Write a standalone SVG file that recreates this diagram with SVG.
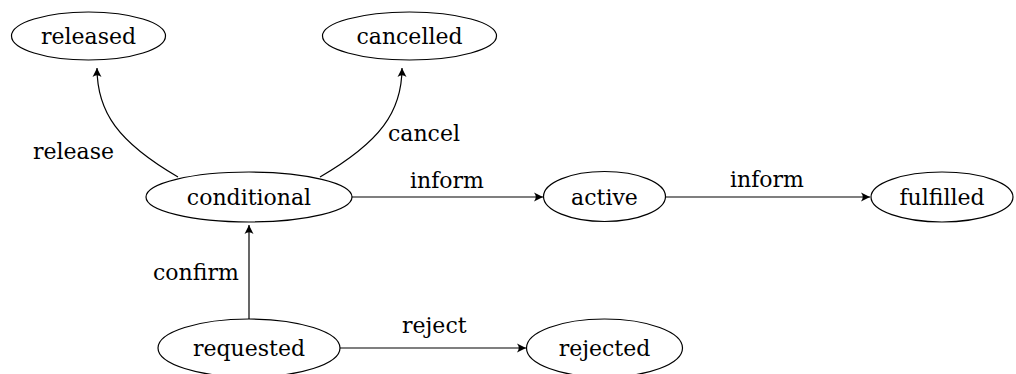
<svg xmlns="http://www.w3.org/2000/svg" width="1016" height="374" viewBox="0 0 1016 374" font-family="'DejaVu Serif', 'Liberation Serif', serif">
<style>
.n{fill:#fff;stroke:#000;stroke-width:1.2}
text{font-family:'DejaVu Serif','Liberation Serif',serif;font-size:22px;fill:#000}
.c text{text-anchor:middle}
.e{fill:none;stroke:#000;stroke-width:1.2}
</style>
<defs>
<marker id="a" markerUnits="userSpaceOnUse" markerWidth="12" markerHeight="12" viewBox="-10 -6 12 12" refX="0" refY="0" orient="auto">
<path d="M0,0 L-9,-4.5 Q-5.5,0 -9,4.5 Z" fill="#000"/>
</marker>
</defs>
<g id="edges">
<path class="e" d="M352,197 L543,197" marker-end="url(#a)"/>
<path class="e" d="M666,197 L870,197" marker-end="url(#a)"/>
<path class="e" d="M249,319 L249,225" marker-end="url(#a)"/>
<path class="e" d="M340,348 L526,348" marker-end="url(#a)"/>
<path class="e" d="M178,177 C118,142 97,112 97,68" marker-end="url(#a)"/>
<path class="e" d="M320,177 C380,142 402,112 402,68" marker-end="url(#a)"/>
<text x="410" y="188">inform</text>
<text x="730" y="187">inform</text>
<text x="153" y="280">confirm</text>
<text x="402" y="333">reject</text>
<text x="33" y="159">release</text>
<text x="388" y="141">cancel</text>
</g>
<g id="released" class="c"><ellipse class="n" cx="88.5" cy="36" rx="77" ry="24"/><text x="88.5" y="44">released</text></g>
<g id="cancelled" class="c"><ellipse class="n" cx="409.5" cy="36" rx="87" ry="24"/><text x="409.5" y="44">cancelled</text></g>
<g id="conditional" class="c"><ellipse class="n" cx="249" cy="197" rx="103" ry="25"/><text x="249" y="205">conditional</text></g>
<g id="active" class="c"><ellipse class="n" cx="604.5" cy="196.5" rx="61" ry="25"/><text x="604.5" y="205">active</text></g>
<g id="fulfilled" class="c"><ellipse class="n" cx="942" cy="197" rx="71" ry="25"/><text x="942" y="205">fulfilled</text></g>
<g id="requested" class="c"><ellipse class="n" cx="249" cy="348" rx="91" ry="29"/><text x="249" y="356">requested</text></g>
<g id="rejected" class="c"><ellipse class="n" cx="604.5" cy="348" rx="78" ry="29"/><text x="604.5" y="356">rejected</text></g>
</svg>
